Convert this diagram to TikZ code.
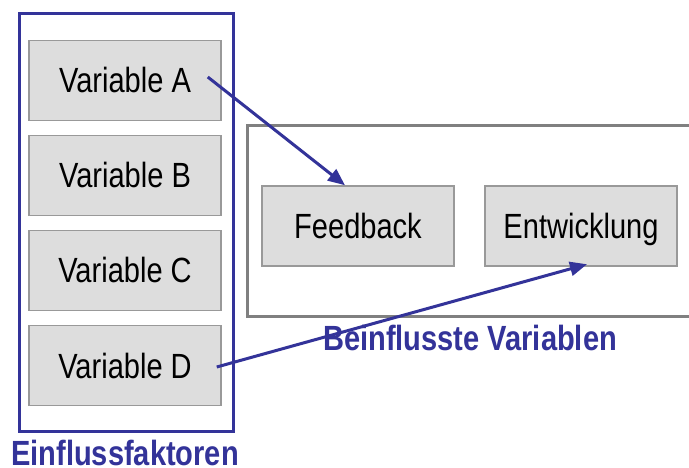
\documentclass[tikz,border=0pt]{standalone}
\usepackage{fontspec}
\newfontfamily\narrowsans{Liberation Sans}[FakeStretch=0.83]
\usetikzlibrary{arrows.meta,calc}
\definecolor{frameblue}{HTML}{333399}
\definecolor{boxfill}{HTML}{DDDDDD}
\definecolor{boxline}{HTML}{999999}
\definecolor{groupgray}{HTML}{808080}
\begin{document}
\begin{tikzpicture}[x=1pt,y=-1pt,
  varbox/.style={draw=boxline, line width=1.5pt, fill=boxfill,
    minimum width=192pt, minimum height=80pt, inner sep=0pt,
    text height=25pt, text depth=0pt,
    font=\narrowsans\fontsize{35}{42}\selectfont, text=black},
  grouplabel/.style={font=\narrowsans\bfseries\fontsize{35}{42}\selectfont,
    text=frameblue, inner sep=0pt, text height=25pt, text depth=0pt},
  influence/.style={draw=frameblue, line width=3pt,
    -{Triangle[length=17pt,width=14pt]}}]
\useasboundingbox (0,0) rectangle (689,468);

% group of influencing factors
\draw[frameblue, line width=3pt] (19,14) rectangle (233,431);
\node[varbox] (varA) at (125,80.5)  {Variable A};
\node[varbox] (varB) at (125,175.5) {Variable B};
\node[varbox] (varC) at (125,270.5) {Variable C};
\node[varbox] (varD) at (125,365.5) {Variable D};
\node[grouplabel] (lblLeft) at (125,452.5) {Einflussfaktoren};

% group of influenced variables (open towards the right)
\draw[groupgray, line width=3pt] (700,126) -- (247,126) -- (247,316) -- (700,316);
\node[varbox] (fb)   at (358,226) {Feedback};
\node[varbox] (entw) at (581,226) {Entwicklung};
\node[grouplabel] (lblRight) at (470,337.5) {Beinflusste Variablen};

% influence arrows
\draw[influence] ([xshift=-14pt,yshift=3.5pt]varA.east) -- ([xshift=-13pt]fb.north);
\draw[influence] ([xshift=-5pt,yshift=-1.5pt]varD.east) -- ([xshift=6pt,yshift=2.5pt]entw.south);
\end{tikzpicture}
\end{document}
